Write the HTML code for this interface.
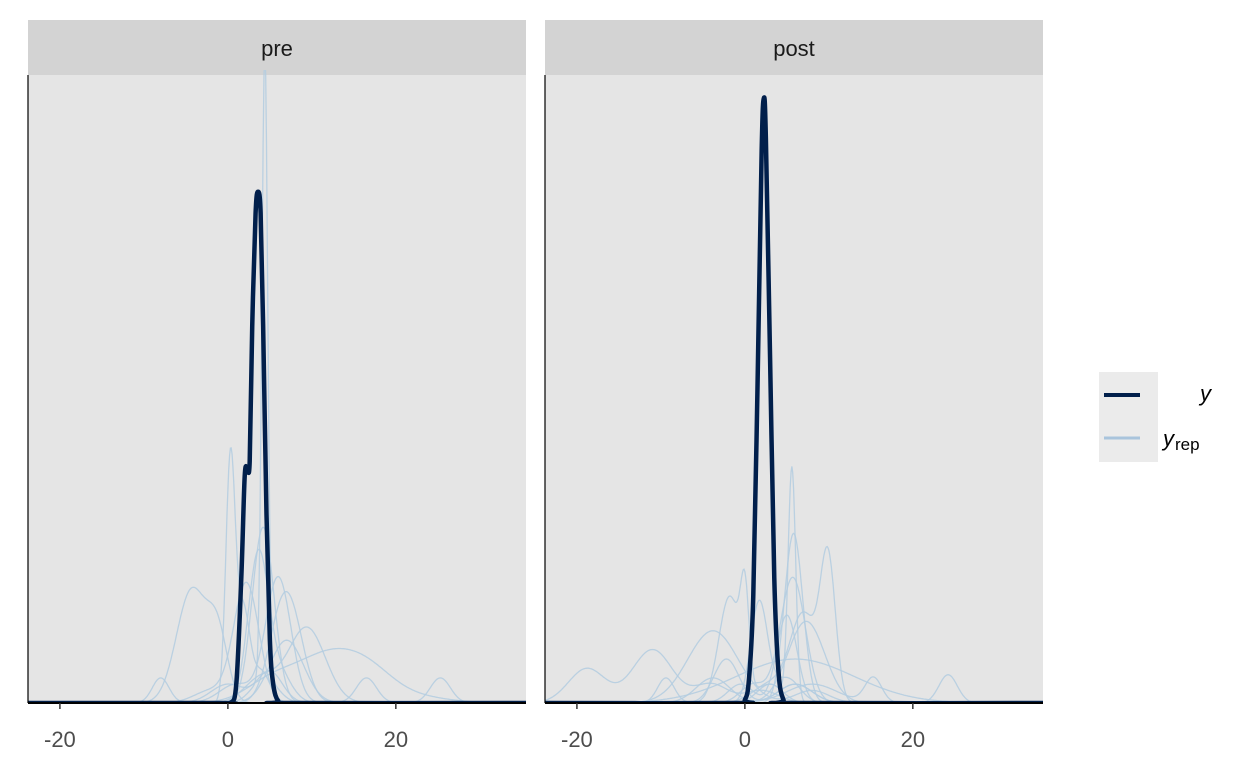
<!DOCTYPE html>
<html><head><meta charset="utf-8"><style>
body{margin:0;background:#fff;font-family:"Liberation Sans",sans-serif}
svg text{font-family:"Liberation Sans",sans-serif}
</style></head><body>
<svg id="chart" width="1248" height="768" viewBox="0 0 1248 768">
<rect width="1248" height="768" fill="#fff"/>
<g id="panels"></g>
<g>
<rect x="1099" y="372" width="59" height="90" fill="#ebebeb"/>
<line x1="1104" y1="395" x2="1140" y2="395" stroke="#011f4b" stroke-width="4"/>
<line x1="1104" y1="438" x2="1140" y2="438" stroke="#a9c4dc" stroke-width="3"/>
<text x="1211" y="401" text-anchor="end" font-size="22" font-style="italic" fill="#000">y</text>
<text x="1163" y="446" font-size="22" font-style="italic" fill="#000">y<tspan font-size="17" font-style="normal" dx="1" dy="4">rep</tspan></text>
</g>
</svg>
<script>
const panelNames = ["pre","post"];
const xTicks = [-20, 0, 20];
// observed y density key points (x, density on 0-100 scale)
const yPreX = [-1,0.3,1,1.6,2.0,2.3,2.6,2.9,3.3,3.6,3.9,4.2,4.6,5.0,5.4,6,7];
const yPreD = [0,0,3,20,36,37.5,38.5,60,78,81.4,78,60,30,10,3,0.3,0];
const yPostX = [-1,0,0.5,1,1.5,2,2.26,2.5,3,3.5,4,4.6,5.5];
const yPostD = [0,0.5,4,17,50,88,96.3,90,55,20,5,0.5,0];
// yrep densities: components [center, sd, peak height]
const yrepPre = [
 [[4.4,0.35,100],[4.4,1.5,4]],
 [[0.3,0.55,38],[1.8,0.8,15],[4,1,5]],
 [[-4.3,1.8,18],[-1.2,1.2,10]],
 [[-8,1,4],[0,2,3],[5,1.5,5]],
 [[3.6,1.2,23],[6,1.5,5]],
 [[4.2,1.3,28]],
 [[6,1.5,20],[1,2,3]],
 [[6.4,1.6,13],[8,1.5,7]],
 [[9.4,2.2,12],[4,2,4]],
 [[5,3,3],[12,4,7.5],[17,3,3],[22,4,1]],
 [[7,2,10],[16.5,1.2,4],[25.3,1.2,4]],
 [[2.2,1.5,19],[-2,2,2]]
];
const yrepPost = [
 [[5.6,0.45,37],[3,1.5,3]],
 [[5.8,1.1,27]],
 [[9.9,0.9,22],[7,1.6,14],[3,2,3]],
 [[0,0.5,14],[-1.8,1.3,17],[3,1.5,3]],
 [[5.7,1.5,20],[1,1.5,3]],
 [[1.7,1,16],[5,1.5,4]],
 [[5,1.2,14],[-0.5,1.5,3]],
 [[7.3,2.2,13]],
 [[-3.8,3,11.5],[8,2,2]],
 [[-18.8,2.2,5.5],[-11,2.4,8.5],[-4,2,3],[2,2,2]],
 [[-2.2,1.5,7],[-9.4,1,4],[6,2,3]],
 [[6,7,7]],
 [[15.3,1,4],[24.2,1.1,4.5],[8,3,3]],
 [[-3.8,2,4],[6,2,3]]
];
const NS="http://www.w3.org/2000/svg";
const panelsG=document.getElementById('panels');
const panelLeft=[28,545], panelW=498, plotTop=75, plotBottom=703;
const xMin=-23.8, xMax=35.5;
function mk(t,a,p){const e=document.createElementNS(NS,t);for(const k in a)e.setAttribute(k,a[k]);p.appendChild(e);return e;}
function mix(c,x){let s=0;for(const [m,sd,h] of c){s+=h*Math.exp(-0.5*((x-m)/sd)**2);}return s;}
function smooth(pts){let d=`M${pts[0][0]},${pts[0][1]}`;for(let i=0;i<pts.length-1;i++){const p0=pts[Math.max(0,i-1)],p1=pts[i],p2=pts[i+1],p3=pts[Math.min(pts.length-1,i+2)];d+=` C${p1[0]+(p2[0]-p0[0])/6},${p1[1]+(p2[1]-p0[1])/6} ${p2[0]-(p3[0]-p1[0])/6},${p2[1]-(p3[1]-p1[1])/6} ${p2[0]},${p2[1]}`;}return d;}
panelNames.forEach((name,pi)=>{
 const L=panelLeft[pi];
 const sx=x=>L+(x-xMin)/(xMax-xMin)*panelW;
 const sy=v=>plotBottom-v/100*(plotBottom-plotTop);
 const g=mk('g',{},panelsG);
 
 
 const bg=mk('rect',{x:L,y:plotTop,width:panelW,height:plotBottom-plotTop,fill:'#e5e5e5'},g);
 
 
 const st=mk('rect',{x:L,y:20,width:panelW,height:55,fill:'#d3d3d3'},g);
 
 
 const stt=mk('text',{x:L+panelW/2,y:56,'text-anchor':'middle','font-size':22,fill:'#1a1a1a'},g);
 stt.textContent=name;
 
 
 const clipId='clip'+pi;
 const cp=mk('clipPath',{id:clipId},g);mk('rect',{x:L,y:plotTop-5,width:panelW,height:plotBottom-plotTop+5},cp);
 const cg=mk('g',{'clip-path':`url(#${clipId})`},g);
 const reps=pi===0?yrepPre:yrepPost;
 reps.forEach((c,ri)=>{
  const pts=[];for(let x=xMin;x<=xMax+0.01;x+=0.1)pts.push([sx(x).toFixed(1),sy(mix(c,x)).toFixed(1)]);
  const p=mk('polyline',{points:pts.map(q=>q.join(',')).join(' '),fill:'none',stroke:'#b3cde0','stroke-width':1.3,'stroke-opacity':0.85},cg);
  
  
 });
 const X=pi===0?yPreX:yPostX, D=pi===0?yPreD:yPostD;
 const pts=[[sx(xMin),sy(0)],...X.map((x,i)=>[sx(x),sy(D[i])]),[sx(xMax),sy(0)]];
 const yp=mk('path',{d:smooth(pts),fill:'none',stroke:'#011f4b','stroke-width':4.5,'stroke-linejoin':'round'},cg);
 
 
 const la=mk('line',{x1:L,y1:plotTop,x2:L,y2:plotBottom,stroke:'#000','stroke-width':1.2},g);
 
 
 const ba=mk('line',{x1:L,y1:plotBottom,x2:L+panelW,y2:plotBottom,stroke:'#000','stroke-width':2},g);
 
 
 xTicks.forEach(t=>{
  const tk=mk('line',{x1:sx(t),y1:plotBottom,x2:sx(t),y2:plotBottom+6,stroke:'#333','stroke-width':1.5},g);
  
  
  const tl=mk('text',{x:sx(t),y:747,'text-anchor':'middle','font-size':22,fill:'#4d4d4d'},g);
  tl.textContent=t;
  
  
 });
});
</script>
</body></html>
